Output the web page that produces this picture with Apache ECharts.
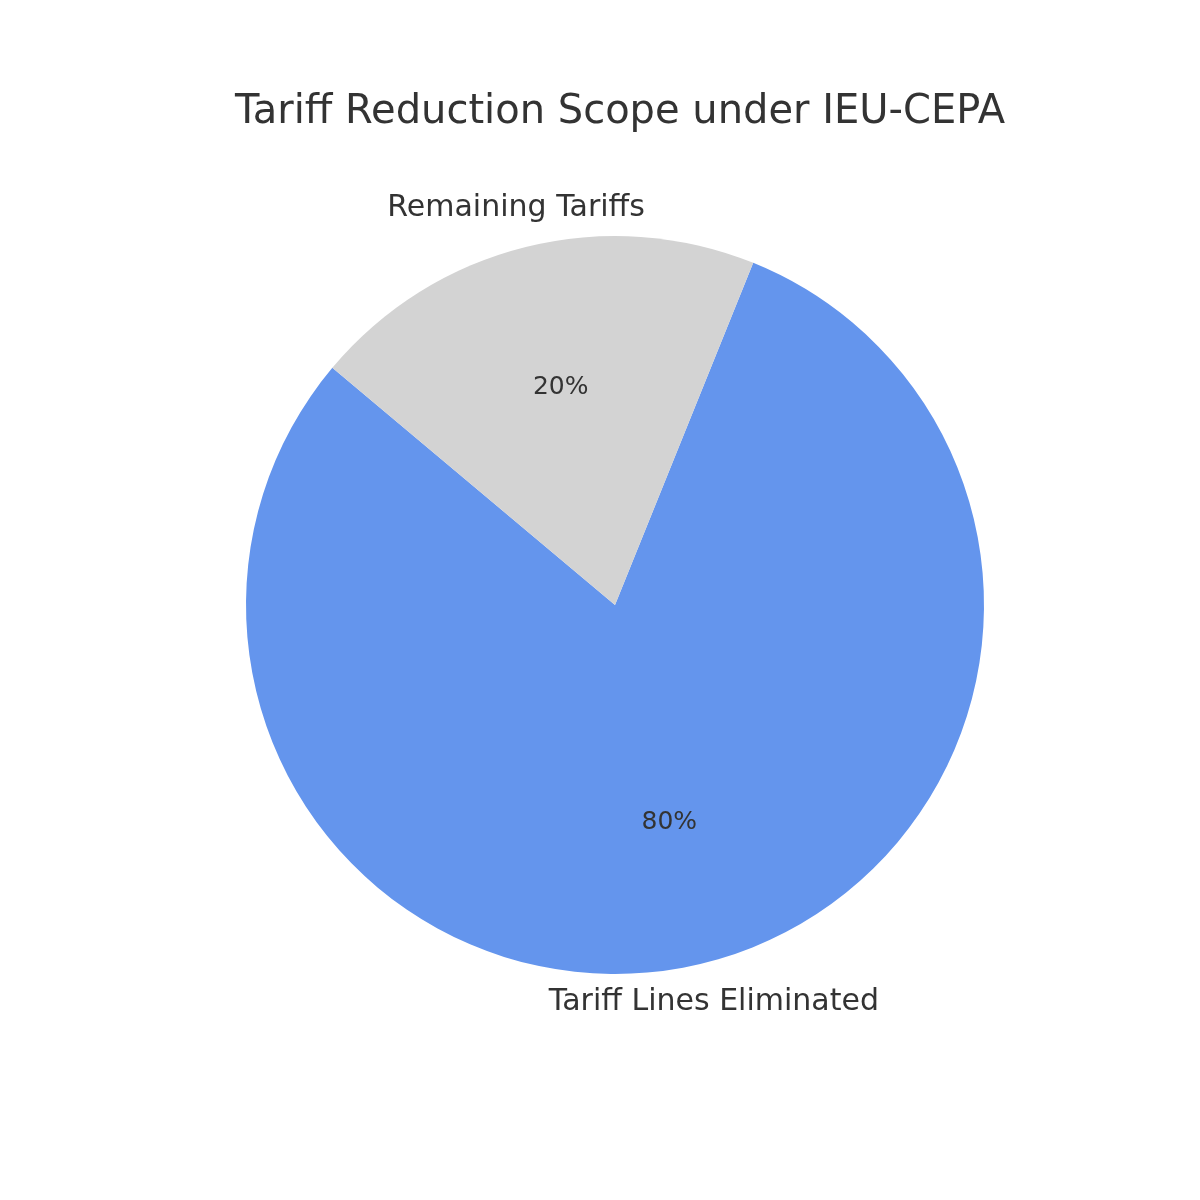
<!DOCTYPE html><html><head><meta charset="utf-8"><script src="https://cdn.jsdelivr.net/npm/echarts@6/dist/echarts.min.js"></script>
<style>html,body{margin:0;background:#fff}#c{width:1200px;height:1200px}</style></head><body><div id="c"></div><script>
const categories=['Tariff Lines Eliminated','Remaining Tariffs'];
const values=[80,20];
const colors=['#6495ED','#D3D3D3'];
const R=369, C=['615px','605px'];
const base={type:'pie',center:C,clockwise:false,startAngle:140,silent:true,labelLine:{show:false}};
const chart=echarts.init(document.getElementById('c'));
chart.setOption({
 animation:false,
 title:{text:'Tariff Reduction Scope under IEU-CEPA',left:615,top:88,textAlign:'center',textStyle:{fontFamily:'DejaVu Sans',fontSize:40,fontWeight:'normal',color:'#333'}},
 series:[
  Object.assign({},base,{radius:[0,R],data:categories.map((n,i)=>({name:n,value:values[i],itemStyle:{color:colors[i]}})),label:{show:false}}),
  Object.assign({},base,{radius:[0,R*1.2],itemStyle:{color:'transparent'},
    label:{show:true,position:'inside',formatter:p=>Math.round(p.percent)+'%',fontFamily:'DejaVu Sans',fontSize:25,color:'#333'},
    data:categories.map((n,i)=>({name:n,value:values[i]}))}),
  Object.assign({},base,{radius:[0,R*2.2],itemStyle:{color:'transparent'},
    label:{show:true,position:'inside',formatter:'{b}',fontFamily:'DejaVu Sans',fontSize:30,color:'#333'},
    data:categories.map((n,i)=>({name:n,value:values[i],label:{align:i===0?'left':'right'}}))})
 ]
});
</script></body></html>
